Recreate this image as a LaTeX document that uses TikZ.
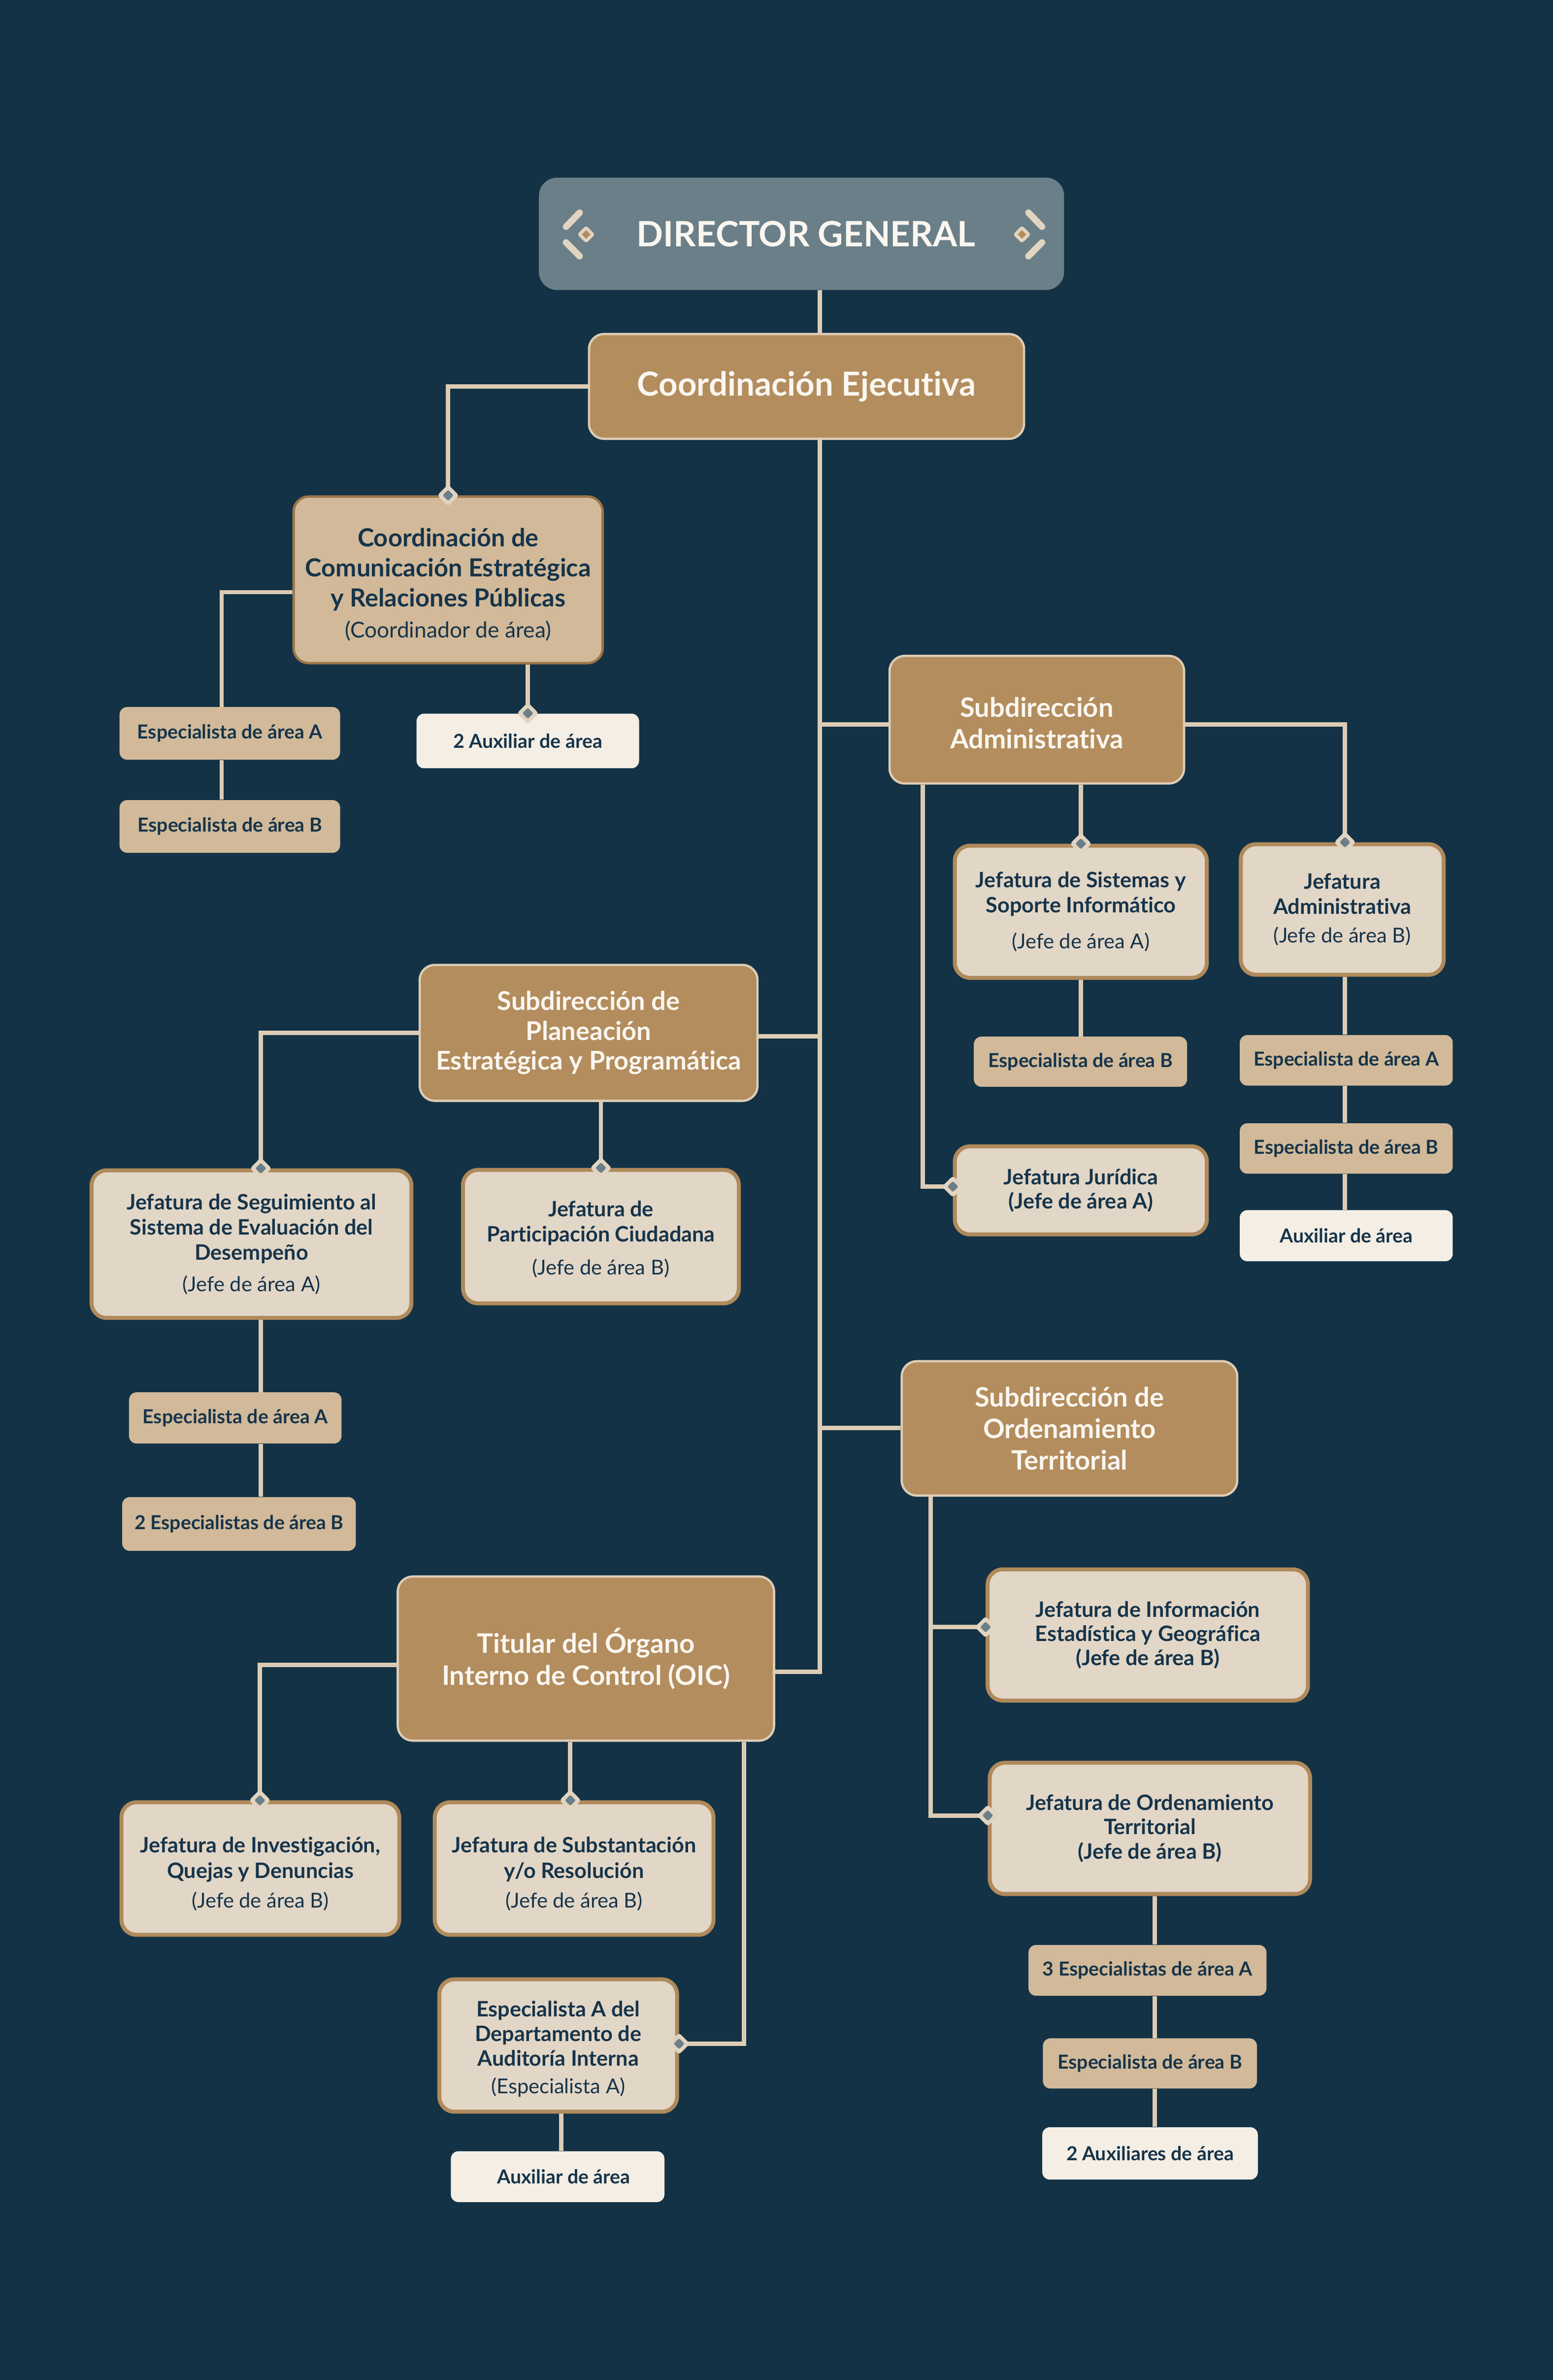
\documentclass[tikz,border=0pt]{standalone}
\usepackage{fontspec}
\setmainfont{Lato}[Ligatures=NoCommon]
\usetikzlibrary{shapes.geometric}
\definecolor{bgc}{HTML}{133245}
\definecolor{dgc}{HTML}{6B7F88}
\definecolor{goldc}{HTML}{B38D5E}
\definecolor{tanc}{HTML}{D1B999}
\definecolor{beigec}{HTML}{E2D6C6}
\definecolor{creamc}{HTML}{F4EEE4}
\definecolor{linec}{HTML}{DDCCB5}
\definecolor{navyc}{HTML}{16344A}
\definecolor{ccborder}{HTML}{9C7549}
\definecolor{jefborder}{HTML}{B08A5B}
\definecolor{whitec}{HTML}{FAF6F0}
\definecolor{mkoc}{HTML}{E1D4C1}
\pgfdeclarelayer{back}
\pgfdeclarelayer{conns}
\pgfsetlayers{back,conns,main}
\newcommand{\parenfont}{\mdseries\fontsize{13.5}{16}\selectfont}
\tikzset{
  box/.style={rectangle, inner sep=0pt, align=center, text=navyc},
  dgbox/.style={box, fill=dgc, rounded corners=12pt, text=whitec, font=\fontsize{23}{27}\selectfont\bfseries},
  goldbox/.style={box, fill=goldc, draw=linec, line width=1.5pt, rounded corners=10pt, text=whitec, font=\fontsize{17.6}{20.7}\selectfont\bfseries},
  ccbox/.style={box, fill=tanc, draw=ccborder, line width=1.6pt, rounded corners=10pt, font=\fontsize{16.4}{19.7}\selectfont\bfseries},
  jefbox/.style={box, fill=beigec, draw=jefborder, line width=2.6pt, rounded corners=10pt, font=\fontsize{14}{16.7}\selectfont\bfseries},
  tanbox/.style={box, fill=tanc, rounded corners=5pt, font=\fontsize{12.7}{15}\selectfont\bfseries},
  creambox/.style={box, fill=creamc, rounded corners=5pt, font=\fontsize{12.7}{15}\selectfont\bfseries},
  conn/.style={draw=linec, line width=2.9pt},
  mko/.style={diamond, fill=mkoc, minimum size=14.5pt, inner sep=0pt, rounded corners=2pt},
  mki/.style={diamond, fill=dgc, minimum size=7.4pt, inner sep=0pt, rounded corners=1pt},
  decor/.style={draw=mkoc, line width=4.3pt, line cap=round},
}
\begin{document}
\begin{tikzpicture}[x=1pt, y=-1pt]
\begin{pgfonlayer}{back}
\fill[bgc] (0,0) rectangle (1023,1567.5);
\end{pgfonlayer}
\useasboundingbox (0,0) rectangle (1023,1567.5);

% ---------- nodes ----------
\node[dgbox, minimum width=346pt, minimum height=74pt] (dg) at (528,154) {\hspace*{6pt}DIRECTOR GENERAL};
\node[goldbox, font=\fontsize{21.8}{25}\selectfont\bfseries, minimum width=286.6pt, minimum height=69pt] (ce) at (531.3,254.5) {Coordinación Ejecutiva};

\node[ccbox, minimum width=203.6pt, minimum height=109.7pt] (cc) at (295.2,381.9) {\rule{0pt}{18.5pt}Coordinación de\\Comunicación Estratégica\\y Relaciones Públicas\\[1pt]{\mdseries\fontsize{14.4}{17}\selectfont (Coordinador de área)}};
\node[tanbox, minimum width=145.3pt, minimum height=34.7pt] (e1a) at (151.4,483) {Especialista de área A};
\node[tanbox, minimum width=145.3pt, minimum height=34.7pt] (e1b) at (151.4,544.3) {Especialista de área B};
\node[creambox, minimum width=146.6pt, minimum height=36pt] (x1) at (347.7,488) {2 Auxiliar de área};

\node[goldbox, minimum width=194pt, minimum height=84pt] (sa) at (683,474) {\rule{0pt}{17.5pt}Subdirección\\Administrativa};
\node[jefbox, minimum width=166pt, minimum height=87pt] (js) at (712,600.5) {Jefatura de Sistemas y\\Soporte Informático\\[7pt]{\parenfont (Jefe de área A)}};
\node[tanbox, minimum width=140.5pt, minimum height=33pt] (e2b) at (711.75,699.25) {Especialista de área B};
\node[jefbox, font=\fontsize{14}{16}\selectfont\bfseries, minimum width=166pt, minimum height=58pt] (jj) at (712,784) {Jefatura Jurídica\\(Jefe de área A)};
\node[jefbox, minimum width=133.6pt, minimum height=86pt] (ja) at (884.2,599) {Jefatura\\Administrativa\\[2pt]{\parenfont (Jefe de área B)}};
\node[tanbox, minimum width=140.3pt, minimum height=33.3pt] (e3a) at (886.85,698.35) {Especialista de área A};
\node[tanbox, minimum width=140.3pt, minimum height=33.2pt] (e3b) at (886.85,756.4) {Especialista de área B};
\node[creambox, minimum width=140.3pt, minimum height=33.7pt] (x3) at (886.85,813.85) {Auxiliar de área};

\node[goldbox, font=\fontsize{17}{19.6}\selectfont\bfseries, minimum width=222.5pt, minimum height=89.5pt] (sp) at (387.75,680.25) {Subdirección de\\Planeación\\Estratégica y Programática};
\node[jefbox, minimum width=210.7pt, minimum height=97.2pt] (jseg) at (165.65,819.4) {Jefatura de Seguimiento al\\Sistema de Evaluación del\\Desempeño\\[4pt]{\parenfont (Jefe de área A)}};
\node[jefbox, minimum width=181.7pt, minimum height=87.9pt] (jpart) at (395.85,814.45) {\rule{0pt}{14pt}Jefatura de\\Participación Ciudadana\\[5pt]{\parenfont (Jefe de área B)}};
\node[tanbox, minimum width=140pt, minimum height=33.7pt] (e4a) at (155,933.85) {Especialista de área A};
\node[tanbox, minimum width=153.9pt, minimum height=35.4pt] (e4b) at (157.45,1003.7) {2 Especialistas de área B};

\node[goldbox, minimum width=221pt, minimum height=88.5pt] (so) at (704.5,940.75) {Subdirección de\\Ordenamiento\\Territorial};
\node[jefbox, font=\fontsize{14}{16}\selectfont\bfseries, minimum width=211pt, minimum height=86.4pt] (jinfo) at (756.1,1076.8) {Jefatura de Información\\Estadística y Geográfica\\(Jefe de área B)};
\node[jefbox, font=\fontsize{14}{16}\selectfont\bfseries, minimum width=211pt, minimum height=86.4pt] (jord) at (757.5,1204.2) {Jefatura de Ordenamiento\\Territorial\\(Jefe de área B)};
\node[tanbox, minimum width=156.8pt, minimum height=33.4pt] (e5a) at (755.9,1297.7) {3 Especialistas de área A};
\node[tanbox, minimum width=141pt, minimum height=33.1pt] (e5b) at (757.5,1359) {Especialista de área B};
\node[creambox, minimum width=142pt, minimum height=34.5pt] (x5) at (757.6,1418.25) {2 Auxiliares de área};

\node[goldbox, font=\fontsize{17.7}{21}\selectfont\bfseries, minimum width=247.9pt, minimum height=108.1pt] (oic) at (385.95,1092.35) {Titular del Órgano\\Interno de Control (OIC)};
\node[jefbox, minimum width=183pt, minimum height=87.3pt] (jinv) at (171.5,1230.65) {\rule{0pt}{17.5pt}Jefatura de Investigación,\\Quejas y Denuncias\\[3pt]{\parenfont (Jefe de área B)}};
\node[jefbox, minimum width=183.6pt, minimum height=87.3pt] (jsub) at (378.2,1230.65) {\rule{0pt}{17.5pt}Jefatura de Substantación\\y/o Resolución\\[3pt]{\parenfont (Jefe de área B)}};
\node[jefbox, font=\fontsize{14}{16.2}\selectfont\bfseries, minimum width=156.6pt, minimum height=87.2pt] (espad) at (367.7,1347.2) {\rule{0pt}{15pt}Especialista A del\\Departamento de\\Auditoría Interna\\[2pt]{\parenfont (Especialista A)}};
\node[creambox, minimum width=140.7pt, minimum height=33.5pt] (x6) at (367.35,1433.55) {\hspace*{8pt}Auxiliar de área};

% ---------- director decorations ----------
\coordinate (dl) at (386.1,154.4);
\coordinate (dr) at (673.2,154.4);
\draw[decor, shift={(dl)}] (-4.3,-14.3) -- (-13.2,-5.1);
\draw[decor, shift={(dl)}] (-13.2,5.3) -- (-4.3,14.3);
\draw[decor, shift={(dr)}] (4.3,-14.3) -- (13.2,-5.1);
\draw[decor, shift={(dr)}] (13.2,5.3) -- (4.3,14.3);
\node[diamond, fill=mkoc, minimum size=11.9pt, inner sep=0pt, rounded corners=1.5pt] (dlo) at (dl) {};
\node[diamond, fill=goldc, minimum size=5.8pt, inner sep=0pt] (dli) at (dl) {};
\node[diamond, fill=mkoc, minimum size=11.9pt, inner sep=0pt, rounded corners=1.5pt] (dro) at (dr) {};
\node[diamond, fill=goldc, minimum size=5.8pt, inner sep=0pt] (dri) at (dr) {};

% ---------- connectors ----------
\coordinate (tr) at (540,0);
\coordinate (tend) at (540,1101);
\coordinate (ysa) at (0,477);
\coordinate (c1) at (146,390);
\coordinate (c2) at (886,477);
\coordinate (c3) at (608,781.5);
\coordinate (c4) at (0,682.4);
\coordinate (c5) at (171.8,680.3);
\coordinate (c6) at (0,940.5);
\coordinate (c7) at (613,1071.6);
\coordinate (c8) at (613,1195.7);
\coordinate (c9) at (760.6,0);
\coordinate (c10) at (171.2,1096.4);
\coordinate (c11) at (375.7,0);
\coordinate (c12) at (490,1346);
\coordinate (c13) at (369.8,0);
\begin{pgfonlayer}{conns}
\draw[conn] (dg.south -| tr) -- (ce.north -| tr);
\draw[conn] (ce.south -| tr) -- (tend) -- (tend -| oic.east);
\draw[conn] (ce.west) -| (cc.north);
\draw[conn] (c1 -| cc.west) -- (c1) -- (c1 |- e1a.north);
\draw[conn] (c1 |- e1a.south) -- (c1 |- e1b.north);
\draw[conn] (x1.north |- cc.south) -- (x1.north);
\draw[conn] (ysa -| tr) -- (ysa -| sa.west);
\draw[conn] (c2 -| sa.east) -- (c2) -- (c2 |- ja.north);
\draw[conn] (c2 |- ja.south) -- (c2 |- e3a.north);
\draw[conn] (c2 |- e3a.south) -- (c2 |- e3b.north);
\draw[conn] (c2 |- e3b.south) -- (c2 |- x3.north);
\draw[conn] (js.north |- sa.south) -- (js.north);
\draw[conn] (js.south) -- (js.south |- e2b.north);
\draw[conn] (c3 |- sa.south) -- (c3) -- (c3 -| jj.west);
\draw[conn] (c4 -| sp.east) -- (c4 -| tr);
\draw[conn] (c5 -| sp.west) -- (c5) -- (c5 |- jseg.north);
\draw[conn] (c5 |- jseg.south) -- (c5 |- e4a.north);
\draw[conn] (c5 |- e4a.south) -- (c5 |- e4b.north);
\draw[conn] (jpart.north |- sp.south) -- (jpart.north);
\draw[conn] (c6 -| tr) -- (c6 -| so.west);
\draw[conn] (c7 |- so.south) -- (c8) -- (c8 -| jord.west);
\draw[conn] (c7) -- (c7 -| jinfo.west);
\draw[conn] (c9 |- jord.south) -- (c9 |- e5a.north);
\draw[conn] (c9 |- e5a.south) -- (c9 |- e5b.north);
\draw[conn] (c9 |- e5b.south) -- (c9 |- x5.north);
\draw[conn] (c10 -| oic.west) -- (c10) -- (c10 |- jinv.north);
\draw[conn] (c11 |- oic.south) -- (c11 |- jsub.north);
\draw[conn] (c12 |- oic.south) -- (c12) -- (c12 -| espad.east);
\draw[conn] (c13 |- espad.south) -- (c13 |- x6.north);
\end{pgfonlayer}

% ---------- markers ----------
\path (cc.north) node[mko] (m1) {} node[mki] (m1i) {};
\path (x1.north) node[mko] (m2) {} node[mki] (m2i) {};
\path (js.north) node[mko] (m3) {} node[mki] (m3i) {};
\path (c2 |- ja.north) node[mko] (m4) {} node[mki] (m4i) {};
\path (c3 -| jj.west) node[mko] (m5) {} node[mki] (m5i) {};
\path (c5 |- jseg.north) node[mko] (m6) {} node[mki] (m6i) {};
\path (jpart.north) node[mko] (m7) {} node[mki] (m7i) {};
\path (c7 -| jinfo.west) node[mko] (m8) {} node[mki] (m8i) {};
\path (c8 -| jord.west) node[mko] (m9) {} node[mki] (m9i) {};
\path (c10 |- jinv.north) node[mko] (m10) {} node[mki] (m10i) {};
\path (c11 |- jsub.north) node[mko] (m11) {} node[mki] (m11i) {};
\path (c12 -| espad.east) node[mko] (m12) {} node[mki] (m12i) {};
\end{tikzpicture}
\end{document}
